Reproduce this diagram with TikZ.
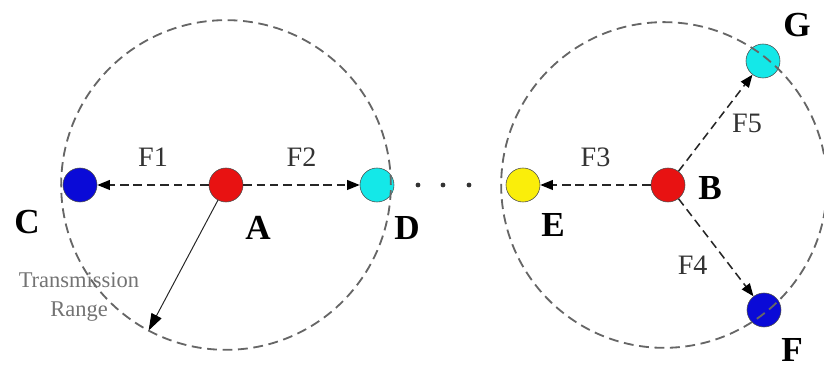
\documentclass[tikz,border=0pt]{standalone}
\usepackage{fontspec}
\setmainfont{Liberation Serif}
\usetikzlibrary{positioning, arrows.meta, calc}

\definecolor{nodered}{RGB}{232,18,18}
\definecolor{nodeblue}{RGB}{10,10,215}
\definecolor{nodecyan}{RGB}{20,232,232}
\definecolor{nodeyellow}{RGB}{250,238,10}

\begin{document}
\begin{tikzpicture}[x=0.025cm, y=0.025cm, >={Triangle[length=9pt, width=7pt, black]},
    sta/.style={circle, draw=black!70, thin, minimum size=0.85cm, inner sep=0pt},
    tag/.style={font=\fontsize{25}{28}\selectfont\bfseries},
    flow/.style={->, dash pattern=on 6pt off 3.5pt, line width=1.1pt, draw=black!85},
    flab/.style={font=\fontsize{20}{24}\selectfont, text=black!80},
    cell/.style={draw=black!60, line width=1.3pt, dash pattern=on 7pt off 4pt}]
    \useasboundingbox (0,0) rectangle (824,372);

    % stations
    \node[sta, fill=nodered] (A) at (226,187) {};
    \node[sta, fill=nodeblue] (C) at (80,187) {};
    \node[sta, fill=nodecyan] (D) at (377,187) {};
    \node[sta, fill=nodered] (B) at (668,187) {};
    \node[sta, fill=nodeyellow] (E) at (523,187) {};
    \node[sta, fill=nodecyan] (G) at (763,311) {};
    \node[sta, fill=nodeblue] (F) at (764,62) {};

    % transmission ranges
    \coordinate (cb) at (664,187);
    \draw[cell] (A) circle[radius=4.12cm];
    \draw[cell] (cb) circle[radius=4.07cm];

    % names
    \node[tag] (lC) at (27,150) {C};
    \node[tag] (lA) at (258,144) {A};
    \node[tag] (lD) at (407,144) {D};
    \node[tag] (lE) at (553,147) {E};
    \node[tag] (lB) at (710,184) {B};
    \node[tag] (lG) at (797,347) {G};
    \node[tag] (lF) at (792,22) {F};

    % flows
    \draw[flow] (A) -- node[flab, above=9pt] (f1) {F1} (C);
    \draw[flow] (A) -- node[flab, above=9pt] (f2) {F2} (D);
    \draw[flow] (B) -- node[flab, above=9pt] (f3) {F3} (E);
    \draw[flow] (B) -- node[flab, right=8pt] (f5) {F5} (G);
    \draw[flow] (B) -- node[flab, below left=3pt] (f4) {F4} (F);

    % range arrow
    \coordinate (rend) at ($(A)+(242:4.12cm)$);
    \draw[->, >={Triangle[length=12pt, width=8pt, black]}, line width=0.7pt, black!85] (A) -- (rend);
    \node[font=\fontsize{16}{21}\selectfont, text=black!55, align=center] (trng) at (79,75) {Transmission\\Range};

    % dots between the cells
    \foreach \x in {418,443,469}
        \fill[black!80] (\x,187) circle[radius=1.7pt];
\end{tikzpicture}
\end{document}
